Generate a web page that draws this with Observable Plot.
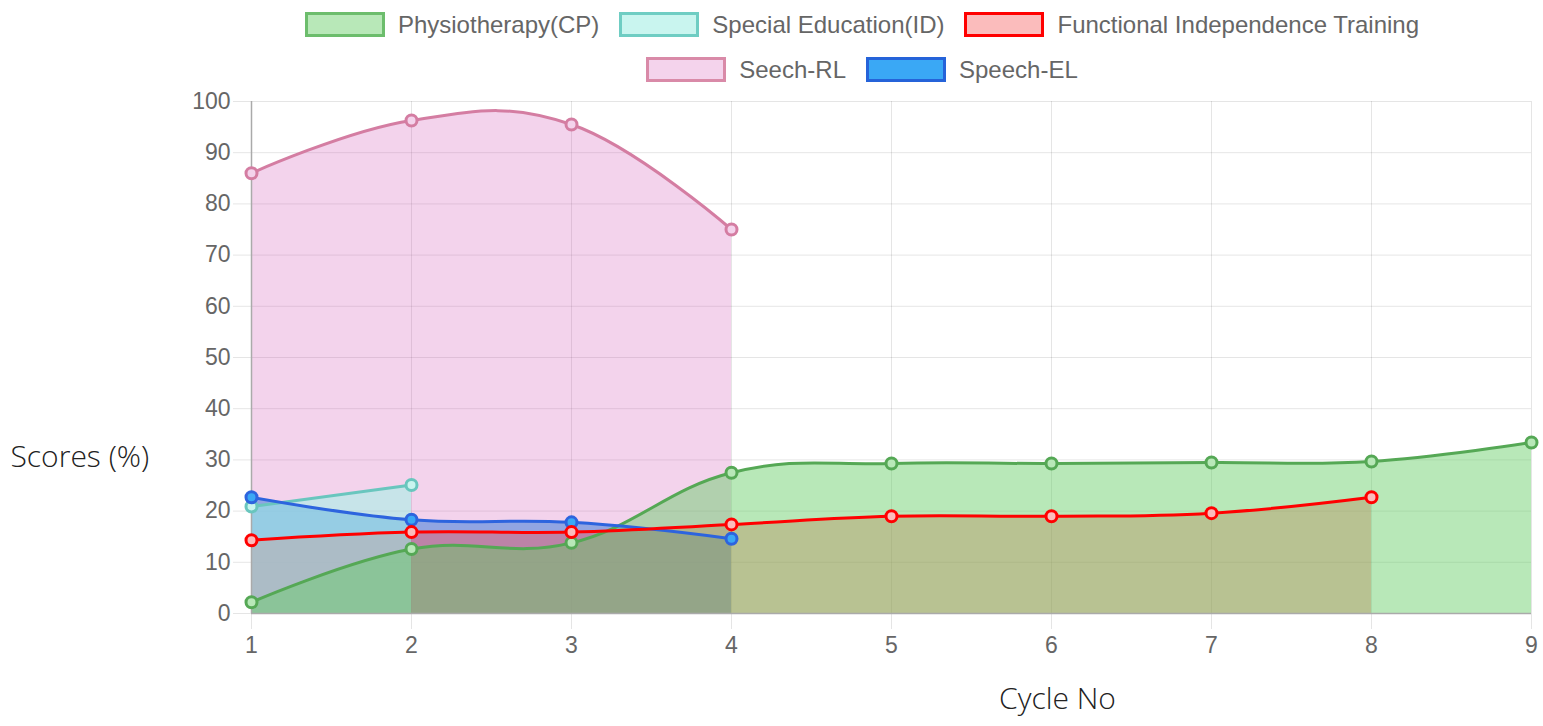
<!DOCTYPE html>
<html><head><meta charset="utf-8">
<script src="https://cdn.jsdelivr.net/npm/d3@7"></script>
<script src="https://cdn.jsdelivr.net/npm/@observablehq/plot@0.6"></script>
<style>
body{margin:0;background:#fff;overflow:hidden;font-family:"Liberation Sans",Arial,sans-serif}
#legend{position:absolute;left:0;top:0;width:1543px;box-sizing:border-box;padding-left:181px;padding-top:2px;z-index:2}
.row{display:flex;justify-content:center;height:45px;align-items:center}
.item{display:flex;align-items:center;margin:0 10px}
.box{width:80px;height:25px;box-sizing:border-box;border:3px solid;margin-right:13px}
.label{font-size:24px;color:#666;white-space:nowrap}
#chart{position:absolute;left:0;top:80px}
#chart svg{display:block}
</style></head><body>
<div id="legend"></div><div id="chart"></div>
<script>
// ---- data ----
const cycles = [1, 2, 3, 4, 5, 6, 7, 8, 9];
const physiotherapy = [2.2, 12.6, 13.8, 27.5, 29.3, 29.3, 29.5, 29.7, 33.4];
const specialEducation = [20.9, 25.1];
const functionalIndependence = [14.3, 15.9, 15.9, 17.4, 19.0, 19.0, 19.6, 22.7];
const seechRL = [86.0, 96.3, 95.5, 75.0];
const speechEL = [22.7, 18.3, 17.8, 14.6];
const seriesNames = ["Physiotherapy(CP)", "Special Education(ID)", "Functional Independence Training", "Seech-RL", "Speech-EL"];
const yTicks = d3.range(0, 101, 10);
const xLabel = "Cycle No";
const yLabel = "Scores (%)";

// ---- styles ----
const styles = {
  "Physiotherapy(CP)": {line: "rgb(85,168,85)", fill: "rgba(101,205,101,0.46)", point: "#b8e8b8", legendFill: "#b8e8b8", legendBorder: "#6cbd6c"},
  "Special Education(ID)": {line: "rgb(105,198,190)", fill: "rgba(155,245,230,0.5)", point: "#c9f5ef", legendFill: "#c9f5ef", legendBorder: "#6fcdc3"},
  "Functional Independence Training": {line: "#ff0000", fill: "rgba(255,80,80,0.4)", point: "#fbbcbc", legendFill: "#fbbcbc", legendBorder: "#ff0000"},
  "Seech-RL": {line: "rgb(212,125,162)", fill: "rgba(207,79,179,0.25)", point: "#f4d3ec", legendFill: "#f4d3ec", legendBorder: "#d98aa8"},
  "Speech-EL": {line: "rgb(45,100,222)", fill: "rgba(54,162,235,0.65)", point: "#3aa8f5", legendFill: "#3aa8f5", legendBorder: "#2563d9"}
};
const valuesByName = {
  "Physiotherapy(CP)": physiotherapy,
  "Special Education(ID)": specialEducation,
  "Functional Independence Training": functionalIndependence,
  "Seech-RL": seechRL,
  "Speech-EL": speechEL
};

// ---- legend ----
const legend = document.getElementById("legend");
[[0, 1, 2], [3, 4]].forEach(idx => {
  const row = document.createElement("div");
  row.className = "row";
  idx.forEach(i => {
    const n = seriesNames[i], s = styles[n];
    const it = document.createElement("div");
    it.className = "item";
    it.innerHTML = `<div class="box" style="background:${s.legendFill};border-color:${s.legendBorder}"></div><span class="label">${n}</span>`;
    row.appendChild(it);
  });
  legend.appendChild(row);
});

// ---- chart ----
const curve = {curve: "cardinal", tension: -0.2};
const dataOf = n => valuesByName[n].map((v, i) => ({x: cycles[i], y: v}));
const fillOrder = ["Speech-EL", "Seech-RL", "Functional Independence Training", "Special Education(ID)", "Physiotherapy(CP)"];
const lineOrder = ["Seech-RL", "Special Education(ID)", "Physiotherapy(CP)", "Speech-EL", "Functional Independence Training"];
const areaMarks = fillOrder.map(n => Plot.areaY(dataOf(n), {x: "x", y: "y", fill: styles[n].fill, ...curve}));
const lineMarks = lineOrder.flatMap(n => [
  Plot.line(dataOf(n), {x: "x", y: "y", stroke: styles[n].line, strokeWidth: 3, ...curve}),
  Plot.dot(dataOf(n), {x: "x", y: "y", r: 5.5, stroke: styles[n].line, strokeWidth: 3, fill: styles[n].point})
]);

const chart = Plot.plot({
  width: 1543, height: 646,
  marginLeft: 251, marginRight: 12, marginTop: 21, marginBottom: 113,
  style: {fontFamily: "'Liberation Sans', Arial, sans-serif", background: "none", overflow: "visible"},
  x: {domain: [1, 9]},
  y: {domain: [0, 100]},
  marks: [
    Plot.gridX(cycles, {stroke: "#000", strokeOpacity: 0.1, strokeWidth: 1}),
    Plot.gridY(yTicks, {stroke: "#000", strokeOpacity: 0.1, strokeWidth: 1}),
    Plot.axisX(cycles, {tickSize: 16, tickPadding: 7, fontSize: 23, fill: "#666", stroke: "#000", strokeOpacity: 0.1, label: null, tickFormat: d => d}),
    Plot.axisY(yTicks, {tickSize: 18, tickPadding: 3, fontSize: 23, fill: "#666", stroke: "#000", strokeOpacity: 0.1, label: null}),
    ...areaMarks,
    Plot.ruleY([0], {stroke: "#aaa", strokeWidth: 1.5}),
    Plot.ruleX([1], {stroke: "#aaa", strokeWidth: 1.5}),
    ...lineMarks,
    Plot.text([yLabel], {text: d => d, frameAnchor: "left", textAnchor: "start", dx: -241, dy: 100, fontSize: 30, fontFamily: "'Open Sans', 'Noto Sans', sans-serif", fontWeight: 300, fill: "#222"}),
    Plot.text([xLabel], {text: d => d, frameAnchor: "bottom", dx: 166, dy: 95, fontSize: 30, fontFamily: "'Open Sans', 'Noto Sans', sans-serif", fontWeight: 300, fill: "#222"})
  ]
});
document.getElementById("chart").appendChild(chart);
</script>
</body></html>
